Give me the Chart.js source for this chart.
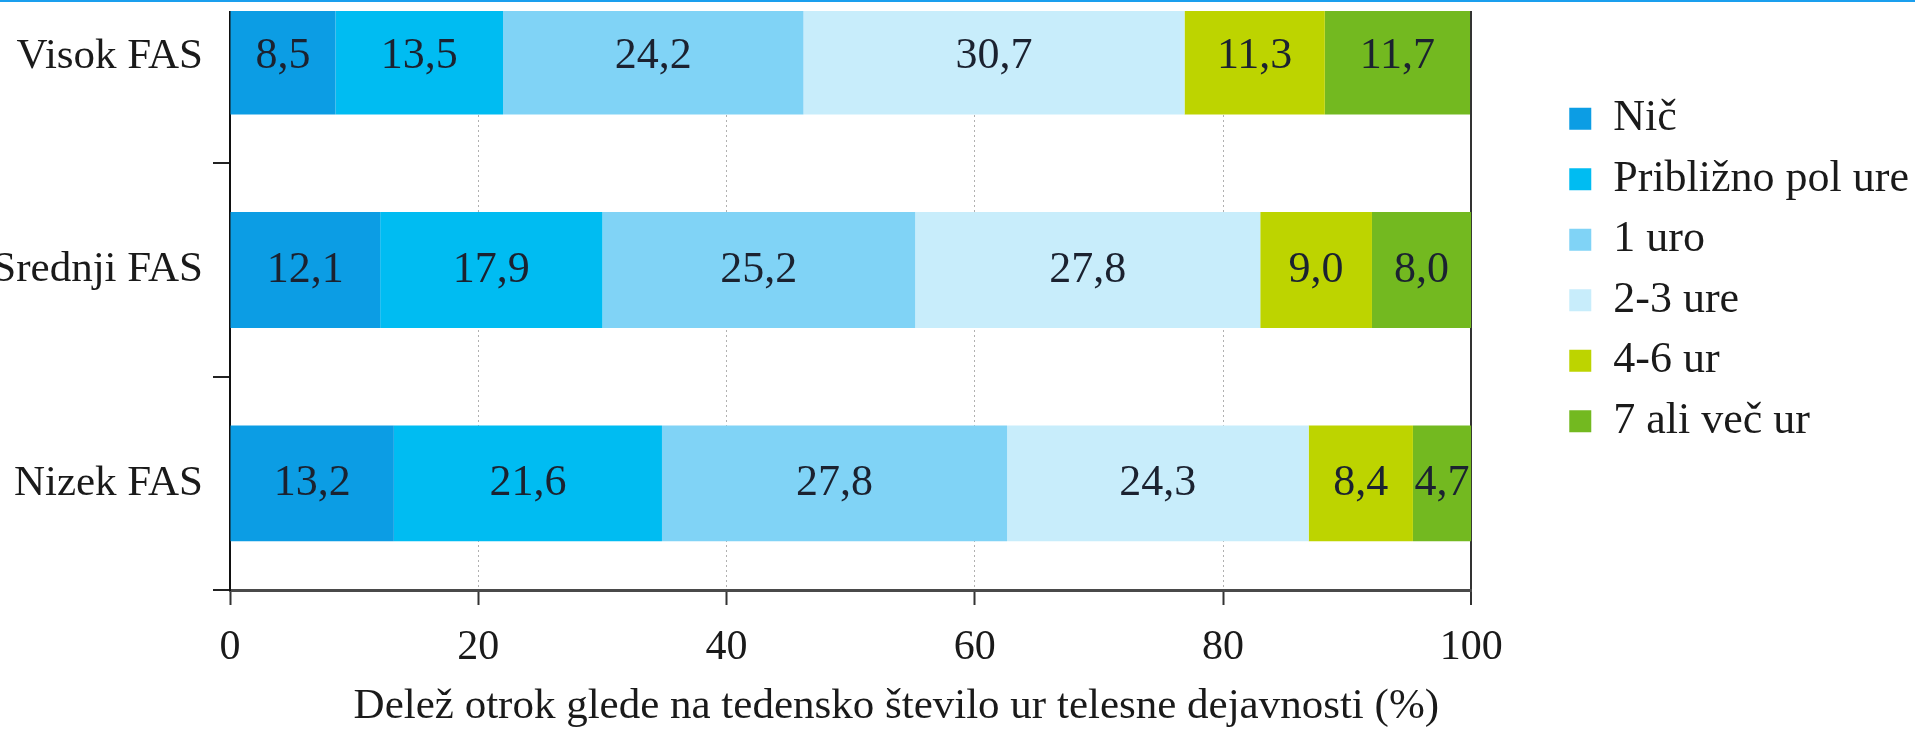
<!DOCTYPE html>
<html>
<head>
<meta charset="utf-8">
<title>Telesna dejavnost po FAS</title>
<script src="https://cdn.jsdelivr.net/npm/chart.js@4.4.1/dist/chart.umd.min.js"></script>
<style>
    html, body { margin: 0; padding: 0; background: #fff; overflow: hidden; }
    body { width: 1915px; height: 731px; position: relative; }
    /* chart is a bit taller than the window, its top part is cut off like in the picture */
    .ChartBox { position: absolute; left: 0; top: -90.5px; width: 1915px; height: 821.5px; }
    .TopEdge { position: absolute; left: 0; top: 0; width: 1915px; height: 11px; background: #fff; border-top: 2px solid #1a9fee; box-sizing: border-box; }
</style>
</head>
<body>
<div class="ChartBox"><canvas id="MyChart"></canvas></div>
<div class="TopEdge"></div>
<script>
var categories = ["Visok FAS", "Srednji FAS", "Nizek FAS"];
var seriesNames = ["Nič", "Približno pol ure", "1 uro", "2-3 ure", "4-6 ur", "7 ali več ur"];
var nic = [8.5, 12.1, 13.2];
var polUre = [13.5, 17.9, 21.6];
var enaUra = [24.2, 25.2, 27.8];
var dveTriUre = [30.7, 27.8, 24.3];
var stiriSestUr = [11.3, 9.0, 8.4];
var sedemVec = [11.7, 8.0, 4.7];
var xTicks = [0, 20, 40, 60, 80, 100];
var axisTitle = "Delež otrok glede na tedensko število ur telesne dejavnosti (%)";

var seriesColors = ["#0c9de4", "#00bcf2", "#80d3f6", "#c8edfb", "#bdd400", "#73b920"];
var seriesValues = [nic, polUre, enaUra, dveTriUre, stiriSestUr, sedemVec];

Chart.defaults.font.family = "'Liberation Serif', serif";
Chart.defaults.color = "#1a1a1a";

// numbers inside the bars, with decimal comma
var barLabels = {
    id: "barLabels",
    afterDatasetsDraw(chart) {
        var ctx = chart.ctx;
        ctx.save();
        ctx.font = "44px 'Liberation Serif'";
        ctx.fillStyle = "#1b2230";
        ctx.textAlign = "center";
        ctx.textBaseline = "middle";
        chart.data.datasets.forEach((ds, i) => {
            chart.getDatasetMeta(i).data.forEach((bar, j) => {
                var txt = ds.data[j].toFixed(1).replace(".", ",");
                ctx.fillText(txt, (bar.x + bar.base) / 2, bar.y);
            });
        });
        ctx.restore();
    }
};

var datasets = [];
let i = 0;
while (i < seriesNames.length) {
    datasets.push({
        label: seriesNames[i],
        data: seriesValues[i],
        backgroundColor: seriesColors[i],
        borderWidth: 0,
        barPercentage: 0.543,
        categoryPercentage: 1
    });
    i++;
}

function isEdge(c) {
    return c.tick && (c.tick.value === 0 || c.tick.value === 100);
}

const ctx = document.getElementById("MyChart");

var ChartView = new Chart(ctx, {
    type: "bar",
    data: {
        labels: categories,
        datasets: datasets
    },
    plugins: [barLabels],
    options: {
        indexAxis: "y",
        responsive: true,
        maintainAspectRatio: false,
        animation: false,
        layout: {
            padding: { top: 40, right: -4, bottom: 0, left: 0 }
        },
        scales: {
            x: {
                stacked: true,
                min: 0,
                max: 100,
                afterBuildTicks: (scale) => {
                    scale.ticks = xTicks.map(v => ({ value: v }));
                },
                grid: {
                    color: (c) => {
                        if (c.tick && c.tick.value === 0) return "rgba(0,0,0,0)";
                        if (c.tick && c.tick.value === 100) return "#333";
                        return "#b0b0b0";
                    },
                    lineWidth: (c) => (c.tick && c.tick.value === 100) ? 2 : 1,
                    tickLength: 15,
                    tickColor: "#333",
                    tickWidth: 2
                },
                border: {
                    color: "#4a4a4a",
                    width: 3,
                    dash: (c) => isEdge(c) ? [] : [2, 3]
                },
                ticks: { padding: 18, font: { size: 42 } },
                title: {
                    display: true,
                    text: axisTitle + "   ",
                    align: "end",
                    font: { size: 43, lineHeight: 0.7 },
                    padding: { top: 0, bottom: 10 }
                }
            },
            y: {
                stacked: true,
                afterFit: (scale) => { scale.width = 230; },
                grid: { offset: true, drawOnChartArea: false, tickLength: 17, color: "#222", lineWidth: 2 },
                border: { color: "#111", width: 2 },
                ticks: { padding: 10, font: { size: 43 } }
            },
            // hidden axis, only keeps the gap between the bars and the legend
            gap: {
                type: "category",
                axis: "y",
                position: "right",
                display: false,
                afterFit: (scale) => { scale.width = 81.5; }
            }
        },
        plugins: {
            tooltip: { enabled: false },
            legend: {
                position: "right",
                fullSize: false,
                align: "center",
                labels: {
                    boxWidth: 22,
                    boxHeight: 22,
                    padding: 16.5,
                    font: { size: 44 }
                }
            }
        }
    }
});
</script>
</body>
</html>
